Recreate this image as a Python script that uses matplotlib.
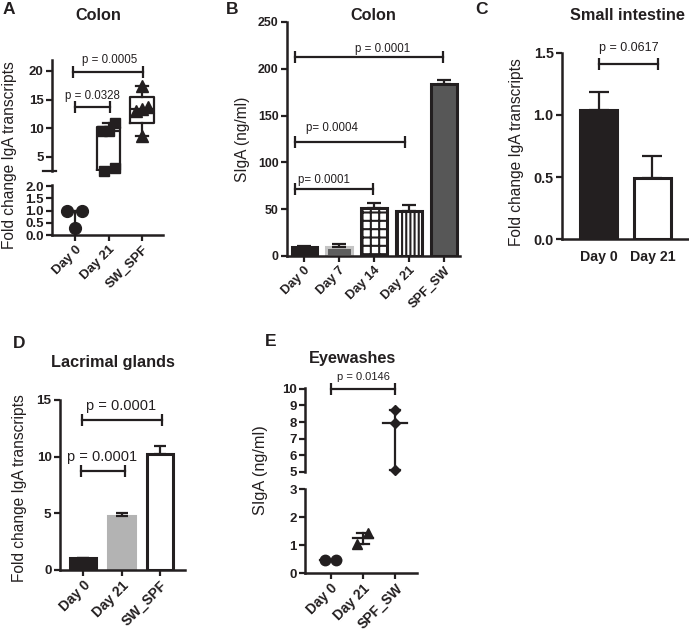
import numpy as np
import matplotlib
matplotlib.use('Agg')
import matplotlib.pyplot as plt

plt.rcParams['font.family'] = ['Liberation Sans', 'DejaVu Sans']
plt.rcParams['font.weight'] = 'bold'
plt.rcParams['hatch.linewidth'] = 1.5
INK = '#231f20'
plt.rcParams['text.color'] = INK
plt.rcParams['axes.edgecolor'] = INK
plt.rcParams['xtick.color'] = INK
plt.rcParams['ytick.color'] = INK

# ---------------- data ----------------
a_groups = ['Day 0', 'Day 21', 'SW_SPF']
a_day0 = [1.0, 1.0, 0.3]
a_day21 = [9.5, 9.6, 11.0, 2.5, 3.1]
a_swspf = [17.3, 13.1, 13.3, 13.7, 8.7]
a_pvals = ['p = 0.0328', 'p = 0.0005']

b_groups = ['Day 0', 'Day 7', 'Day 14', 'Day 21', 'SPF_SW']
b_mean = [10, 10, 51, 48, 184]
b_sem = [1, 3, 6, 6, 4]
b_pvals = ['p= 0.0001', 'p= 0.0004', 'p = 0.0001']

c_groups = ['Day 0', 'Day 21']
c_mean = [1.04, 0.49]
c_sem = [0.145, 0.18]
c_pval = 'p = 0.0617'

d_groups = ['Day 0', 'Day 21', 'SW_SPF']
d_mean = [1.03, 4.75, 10.2]
d_sem = [0.05, 0.32, 0.75]
d_pvals = ['p = 0.0001', 'p = 0.0001']

e_groups = ['Day 0', 'Day 21', 'SPF_SW']
e_day0 = [0.47, 0.47]
e_day21 = [1.05, 1.42]
e_spf = [8.75, 7.92, 5.1]
e_pval = 'p = 0.0146'

# ---------------- layout helpers ----------------
W, H = 689, 632
fig = plt.figure(figsize=(W / 100, H / 100), dpi=100)


def ax_px(l, t, r, b):
    return fig.add_axes([l / W, 1 - b / H, (r - l) / W, (b - t) / H])


def ftxt(x, y, s, **kw):
    fig.text(x / W, 1 - y / H, s, **kw)


def style(ax, bottom=True, tsize=9):
    for s in ['top', 'right']:
        ax.spines[s].set_visible(False)
    ax.spines['left'].set_linewidth(1.8)
    ax.spines['bottom'].set_linewidth(1.8)
    if not bottom:
        ax.spines['bottom'].set_visible(False)
        ax.tick_params(axis='x', bottom=False, labelbottom=False)
    ax.tick_params(width=1.6, length=4, labelsize=tsize, pad=2)
    ax.patch.set_alpha(0)


def bracket(ax, x1, x2, y):
    ax.plot([x1, x2], [y, y], color=INK, lw=1.6, marker='|', ms=9, mew=1.6,
            clip_on=False, zorder=5)


def rot_labels(ax, labels, size=9.5):
    ax.set_xticklabels(labels, rotation=45, ha='right', va='top',
                       rotation_mode='anchor', fontsize=size)


ptxt = dict(fontweight='normal', ha='center', va='center')
ylab = dict(fontweight='normal', rotation=90, ha='center', va='center')
ttl = dict(fontweight='bold', ha='center', va='center', fontsize=11.7)
let = dict(fontweight='bold', ha='left', va='top', fontsize=12.5)

# ================= Panel A =================
axA1 = ax_px(52, 60, 163, 171)
axA2 = ax_px(52, 185, 163, 235)
for ax in (axA1, axA2):
    ax.set_xlim(-0.69, 2.63)
style(axA1, bottom=False, tsize=9.5)
style(axA2, tsize=9.5)
axA1.set_ylim(2.56, 21.9)
axA1.set_yticks([5, 10, 15, 20])
axA1.plot([-0.08, 0.04], [0, 0], transform=axA1.transAxes, color=INK, lw=1.6, clip_on=False)
axA2.set_ylim(0, 2.05)
axA2.set_yticks([0, 0.5, 1.0, 1.5, 2.0])
axA2.set_yticklabels(['0.0', '0.5', '1.0', '1.5', '2.0'])
axA2.set_xticks(range(3))
rot_labels(axA2, a_groups)

# Day 0 : median with range
med0 = np.median(a_day0)
axA2.plot([-0.3, 0.3], [med0, med0], color=INK, lw=1.6)
axA2.plot([0, 0], [min(a_day0), max(a_day0)], color=INK, lw=1.6)
axA2.plot(np.array([-0.25, 0.2, 0.0]), a_day0, 'o', color=INK, ms=8.5, zorder=4, clip_on=False)

# Day 21 and SW_SPF : box plots (GraphPad-style quartiles)
stats = []
for d in (a_day21, a_swspf):
    q1, med, q3 = np.percentile(d, [25, 50, 75], method='weibull')
    stats.append(dict(med=med, q1=q1, q3=q3, whislo=min(d), whishi=max(d), fliers=[]))
lp = dict(color=INK, lw=1.6)
axA1.bxp(stats, positions=[1, 2], widths=0.7, capwidths=0.35,
         boxprops=lp, whiskerprops=lp, capprops=lp, medianprops=lp,
         showfliers=False, manage_ticks=False)
axA1.plot(1 + np.array([-0.2, 0.0, 0.2, -0.12, 0.18]), a_day21, 's', color=INK,
          ms=7.5, zorder=4, clip_on=False)
axA1.plot(2 + np.array([0.0, -0.18, 0.0, 0.18, 0.0]), a_swspf, '^', color=INK,
          ms=8, zorder=4, clip_on=False)
bracket(axA1, 0, 1.05, 13.7)
bracket(axA1, -0.05, 2.03, 19.8)
axA1.text(0.53, 15.6, a_pvals[0], fontsize=8.3, **ptxt)
axA1.text(1.02, 21.9, a_pvals[1], fontsize=8.3, **ptxt)

ftxt(3, 2, 'A', **let)
ftxt(98, 16, 'Colon', **ttl)
ftxt(10, 155, 'Fold change IgA transcripts', fontsize=11.2, **ylab)

# ================= Panel B =================
axB = ax_px(287, 22, 460, 256)
style(axB, tsize=8.9)
axB.set_xlim(-0.49, 4.46)
axB.set_ylim(0, 250)
axB.set_yticks(range(0, 251, 50))
xb = np.arange(len(b_groups))
fills = [INK, '#5e5e5e', 'white', 'white', '#575757']
edges = [INK, '#c4c4c4', INK, INK, INK]
hatches = [None, None, '++', '||||', None]
bars = axB.bar(xb, b_mean, width=0.72, color=fills, edgecolor=edges, linewidth=2.2, zorder=2)
for bb, h in zip(bars, hatches):
    if h:
        bb.set_hatch(h)
axB.errorbar(xb, b_mean, yerr=[np.zeros(len(xb)), b_sem], fmt='none', ecolor=INK,
             elinewidth=1.6, capsize=5, capthick=1.6, zorder=3)
axB.set_xticks(xb)
rot_labels(axB, b_groups, 9.3)
bracket(axB, -0.25, 1.97, 71.4)
bracket(axB, -0.25, 2.9, 121.7)
bracket(axB, -0.25, 3.97, 212.7)
axB.text(-0.17, 81.5, b_pvals[0], fontsize=8.3, fontweight='normal', ha='left', va='center')
axB.text(0.06, 137, b_pvals[1], fontsize=8.3, fontweight='normal', ha='left', va='center')
axB.text(2.23, 221.5, b_pvals[2], fontsize=8.3, **ptxt)

ftxt(226, 2, 'B', **let)
ftxt(373, 15, 'Colon', **ttl)
ftxt(243, 139.5, 'SIgA (ng/ml)', fontsize=11.2, **ylab)

# ================= Panel C =================
axC = ax_px(562, 52.7, 689, 239.3)
style(axC, tsize=10.4)
axC.set_xlim(-0.68, 1.68)
axC.set_ylim(0, 1.5)
axC.set_yticks([0, 0.5, 1.0, 1.5])
axC.set_yticklabels(['0.0', '0.5', '1.0', '1.5'])
xc = np.arange(len(c_groups))
axC.bar(xc, c_mean, width=0.68, color=[INK, 'white'], edgecolor=INK, linewidth=2.2, zorder=2)
axC.errorbar(xc, c_mean, yerr=[np.zeros(len(xc)), c_sem], fmt='none', ecolor=INK,
             elinewidth=1.6, capsize=7, capthick=1.6, zorder=3)
axC.set_xticks(xc)
axC.set_xticklabels(c_groups, fontsize=10.2)
axC.tick_params(axis='x', length=0, pad=8)
bracket(axC, 0, 1.1, 1.41)
axC.text(0.56, 1.54, c_pval, fontsize=9, **ptxt)

ftxt(475, 2, 'C', **let)
ftxt(627, 15, 'Small intestine', **ttl)
ftxt(517, 152, 'Fold change IgA transcripts', fontsize=11.2, **ylab)

# ================= Panel D =================
axD = ax_px(60, 400, 185, 570)
style(axD, tsize=9.7)
axD.set_xlim(-0.6, 2.65)
axD.set_ylim(0, 15)
axD.set_yticks([0, 5, 10, 15])
xd = np.arange(len(d_groups))
axD.bar(xd, d_mean, width=0.68, color=[INK, '#b3b3b3', 'white'],
        edgecolor=[INK, '#b3b3b3', INK], linewidth=2.2, zorder=2)
axD.errorbar(xd, d_mean, yerr=[np.zeros(len(xd)), d_sem], fmt='none', ecolor=INK,
             elinewidth=1.6, capsize=4.5, capthick=1.6, zorder=3)
axD.set_xticks(xd)
rot_labels(axD, d_groups, 10)
bracket(axD, -0.05, 1.1, 8.7)
bracket(axD, -0.03, 2.05, 13.2)
axD.text(0.5, 9.95, d_pvals[0], fontsize=10.5, **ptxt)
axD.text(1.0, 14.45, d_pvals[1], fontsize=10.5, **ptxt)

ftxt(13, 336, 'D', **let)
ftxt(113, 362, 'Lacrimal glands', **ttl)
ftxt(20, 488, 'Fold change IgA transcripts', fontsize=11.2, **ylab)

# ================= Panel E =================
narrow = ['Liberation Sans Narrow', 'Liberation Sans', 'DejaVu Sans']
axE1 = ax_px(305, 388, 417, 472)
axE2 = ax_px(305, 489, 417, 573)
for ax in (axE1, axE2):
    ax.set_xlim(-0.8, 2.68)
style(axE1, bottom=False, tsize=9.5)
style(axE2, tsize=9.5)
axE1.set_ylim(5, 10.05)
axE1.set_yticks(range(5, 11))
axE2.set_ylim(0, 3)
axE2.set_yticks(range(0, 4))
for ax in (axE1, axE2):
    for lab in ax.get_yticklabels():
        lab.set_family(narrow)
axE2.set_xticks(range(3))
rot_labels(axE2, e_groups, 10)


def med_range(ax, x, d, hw, cw):
    m = np.median(d)
    ax.plot([x - hw, x + hw], [m, m], color=INK, lw=1.6, zorder=3)
    ax.plot([x, x], [min(d), max(d)], color=INK, lw=1.6, zorder=3)
    for v in (min(d), max(d)):
        ax.plot([x - cw, x + cw], [v, v], color=INK, lw=1.6, zorder=3)


med_range(axE2, 0, e_day0, 0.33, 0.18)
med_range(axE2, 1, e_day21, 0.3, 0.18)
med_range(axE1, 2, e_spf, 0.37, 0.15)
axE2.plot(np.array([-0.17, 0.15]), e_day0, 'o', color=INK, ms=7.5, zorder=4)
axE2.plot(1 + np.array([-0.17, 0.17]), e_day21, '^', color=INK, ms=7.5, zorder=4)
axE1.plot(2 + np.zeros(len(e_spf)), e_spf, 'D', color=INK, ms=5.5, zorder=4, clip_on=False)
bracket(axE1, 0, 2, 10)
axE1.text(1.01, 10.72, e_pval, fontsize=8, family=narrow, **ptxt)

ftxt(265, 334, 'E', **let)
ftxt(353, 358, 'Eyewashes', **ttl)
ftxt(260, 470, 'SIgA (ng/ml)', fontsize=11.7, **ylab)

fig.savefig('out.png', dpi=100)
